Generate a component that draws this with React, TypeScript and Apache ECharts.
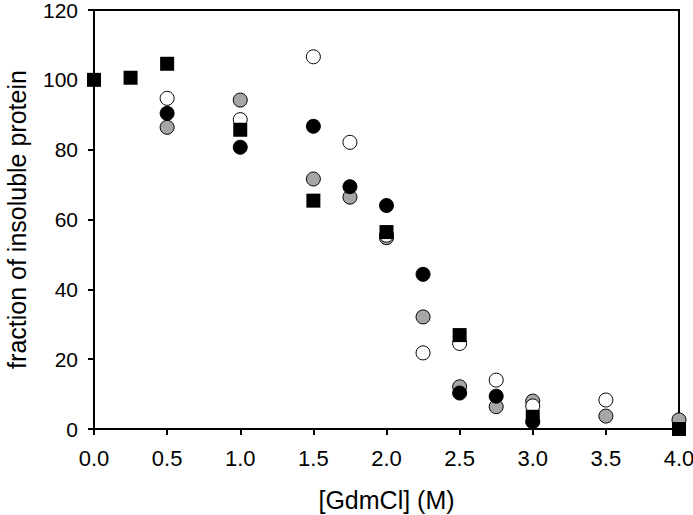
import React, { useEffect, useRef } from "react";
import * as echarts from "echarts";

const xTicks = [0, 0.5, 1, 1.5, 2, 2.5, 3, 3.5, 4];

const squareBlack: [number, number][] = [
  [0, 100], [0.25, 100.6], [0.5, 104.6], [1.0, 85.7], [1.5, 65.4],
  [2.0, 56.4], [2.5, 26.9], [3.0, 3.5], [4.0, 0],
];
const circleBlack: [number, number][] = [
  [0.5, 90.4], [1.0, 80.7], [1.5, 86.7], [1.75, 69.4], [2.0, 64.0],
  [2.25, 44.3], [2.5, 10.3], [2.75, 9.4], [3.0, 2.1],
];
const circleWhite: [number, number][] = [
  [0.5, 94.7], [1.0, 88.6], [1.5, 106.6], [1.75, 82.1], [2.0, 55.5],
  [2.25, 21.8], [2.5, 24.5], [2.75, 14.0], [3.0, 6.6], [3.5, 8.3],
];
const circleGray: [number, number][] = [
  [0.5, 86.4], [1.0, 94.2], [1.5, 71.6], [1.75, 66.4], [2.0, 54.8],
  [2.25, 32.1], [2.5, 12.1], [2.75, 6.4], [3.0, 8.0], [3.5, 3.7], [4.0, 2.6],
];

const FONT = "Liberation Sans, Arial, sans-serif";

export default function App() {
  const ref = useRef<HTMLDivElement>(null);
  useEffect(() => {
    if (!ref.current) return;
    const chart = echarts.init(ref.current, undefined, { renderer: "svg" });
    const circ = (data: [number, number][], color: string, z: number) => ({
      type: "scatter",
      data,
      symbol: "circle",
      symbolSize: 14,
      clip: false,
      z,
      itemStyle: { color, borderColor: "#000", borderWidth: 1, opacity: 1 },
    });
    chart.setOption({
      animation: false,
      backgroundColor: "#fff",
      textStyle: { fontFamily: FONT },
      grid: {
        left: 94, right: 14, top: 10, bottom: 86,
        containLabel: false,
        outerBoundsMode: "none",
        show: true, borderColor: "#000", borderWidth: 2,
      },
      xAxis: {
        type: "value", min: 0, max: 4, interval: 0.5,
        name: "[GdmCl] (M)", nameLocation: "middle", nameGap: 58,
        nameTextStyle: { fontSize: 25, color: "#000", fontFamily: FONT },
        axisLine: { show: true, lineStyle: { color: "#000", width: 2 } },
        axisTick: { show: true, length: 6, lineStyle: { color: "#000", width: 2 } },
        axisLabel: {
          fontSize: 22, color: "#000", margin: 18, fontFamily: FONT,
          formatter: (v: number) => v.toFixed(1),
        },
        splitLine: { show: false },
      },
      yAxis: {
        type: "value", min: 0, max: 120, interval: 20,
        name: "fraction of insoluble protein", nameLocation: "middle", nameGap: 65,
        nameTextStyle: { fontSize: 25, color: "#000", fontFamily: FONT },
        axisLine: { show: true, lineStyle: { color: "#000", width: 2 } },
        axisTick: { show: true, length: 6, lineStyle: { color: "#000", width: 2 } },
        axisLabel: { fontSize: 21, lineHeight: 20, color: "#000", margin: 16, fontFamily: FONT },
        splitLine: { show: false },
      },
      series: [
        circ(circleGray, "#a6a6a6", 2),
        circ(circleWhite, "#ffffff", 3),
        circ(circleBlack, "#000000", 4),
        {
          type: "scatter",
          data: squareBlack,
          symbol: "rect",
          symbolSize: 14,
          clip: false,
          z: 5,
          itemStyle: { color: "#000", opacity: 1 },
        },
      ],
    });
    return () => chart.dispose();
  }, []);
  return <div ref={ref} style={{ width: 693, height: 515, position: "absolute", left: 0, top: 0 }} />;
}
